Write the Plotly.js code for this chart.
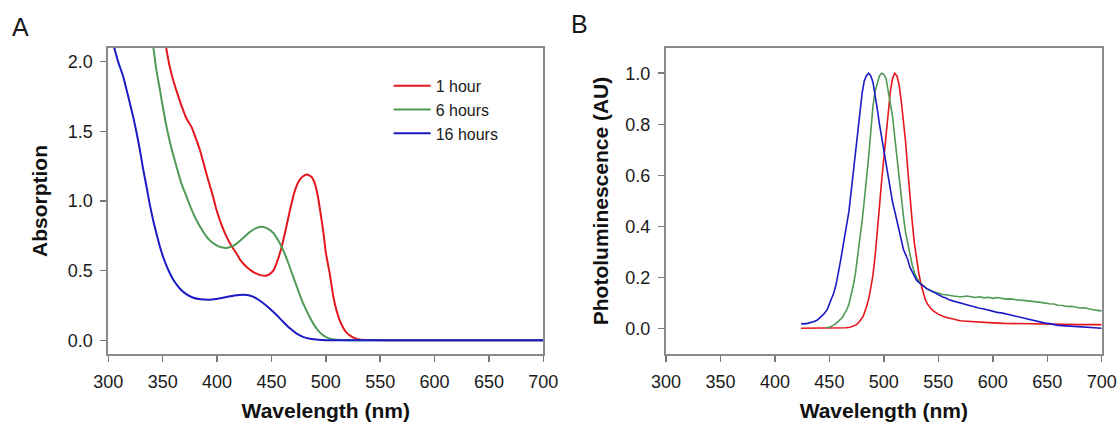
<!DOCTYPE html>
<html>
<head>
<meta charset="utf-8">
<script src="https://cdn.plot.ly/plotly-3.0.1.min.js"></script>
<style>
html,body{margin:0;padding:0;background:#fff;}
#chart{width:1120px;height:425px;}
</style>
</head>
<body>
<div id="chart"></div>
<script>
// ---------- Panel A: absorption ----------
const seriesNames = ["1 hour", "6 hours", "16 hours"];
const seriesColors = ["#e5161c", "#4f9a57", "#1b1bc6"];

const absWl1h = [350,353,356,359.7,364,368.9,372,376.6,380,384.3,388,391.9,396,399.6,404,408.8,413,418,422,427.2,432,436.4,440,444.7,448,451.7,455,459.4,463,467,471,475,479,483,487,490,493,496,498,500,503.8,507,510,513,516,519,522,526,531,540,560,600,650,700];
const absVal1h = [2.2,2.106,1.98,1.866,1.76,1.65,1.59,1.53,1.46,1.364,1.26,1.149,1.04,0.933,0.83,0.742,0.68,0.622,0.57,0.526,0.497,0.479,0.468,0.464,0.474,0.50,0.56,0.67,0.79,0.933,1.06,1.14,1.177,1.19,1.172,1.125,1.02,0.87,0.76,0.63,0.47,0.31,0.21,0.14,0.09,0.055,0.036,0.018,0.006,0.002,0.001,0,0,0];

const absWl6h = [338,341.3,344,347.5,350.5,353.6,358,362.8,367,372,376.5,381.2,386,390.4,395,399.6,404,408.8,413,418,424,430.3,436,442.5,447,451.7,456,460.9,465.5,470.1,474.7,479.3,484,488.5,493,497.7,503.8,510,520,540,600,700];
const absVal6h = [2.2,2.106,1.95,1.795,1.66,1.53,1.38,1.244,1.13,1.03,0.94,0.86,0.795,0.742,0.705,0.682,0.668,0.663,0.672,0.694,0.735,0.778,0.805,0.814,0.80,0.77,0.72,0.646,0.555,0.455,0.355,0.263,0.185,0.12,0.07,0.036,0.012,0.004,0.001,0,0,0];

const absWl16h = [300,305.2,309,313.8,318,323,326,329.1,332,335.2,338,341.3,344.5,347.5,352,356.7,361,365.9,372,378.2,385,393.5,401,408.8,416,424.1,430,436.4,442,448.6,455,460.9,467,473.2,479,485.4,493,500.8,520,600,700];
const absVal16h = [2.24,2.106,2.0,1.89,1.76,1.60,1.49,1.364,1.23,1.10,0.98,0.86,0.76,0.67,0.565,0.48,0.42,0.37,0.33,0.306,0.295,0.292,0.298,0.311,0.322,0.328,0.322,0.30,0.27,0.227,0.18,0.132,0.086,0.048,0.025,0.012,0.004,0.001,0,0,0];

// ---------- Panel B: photoluminescence ----------
const plWl1h = [424,430,436,442,448,454,460,465,469,472,475,478,481,484,486,488,490,492,494,496,498,500,502,504,506,508,510,512,514,516,518,520,522,524,526,528,530,532,534,536,538,540,543,546,550,555,560,565,570,576,582,590,600,610,620,630,640,650,660,670,680,690,700];
const plVal1h = [0.002,0.003,0.002,0.003,0.003,0.003,0.004,0.004,0.006,0.01,0.016,0.03,0.048,0.085,0.115,0.16,0.21,0.285,0.37,0.48,0.58,0.67,0.77,0.86,0.93,0.98,1.0,0.99,0.955,0.89,0.81,0.73,0.62,0.51,0.42,0.335,0.27,0.22,0.175,0.14,0.115,0.097,0.08,0.068,0.057,0.047,0.041,0.035,0.031,0.029,0.027,0.025,0.023,0.021,0.020,0.019,0.018,0.018,0.017,0.017,0.016,0.016,0.016];

const plWl6h = [447,450,453,456,459,462,464,466,468,470,472,474,476,478,480,482,484,486,488,490,492,494,496,498,500,502,504,506,508,510,512,514,516,518,520,522,524,526,528,530,533,536,539,542,545,548,551,554,557,560,564,568,572,576,580,584,588,592,596,600,604,608,612,616,620,624,628,632,636,640,644,648,652,656,660,664,668,672,676,680,684,688,692,696,700];
const plVal6h = [0.004,0.006,0.012,0.02,0.032,0.045,0.06,0.075,0.097,0.13,0.17,0.22,0.28,0.34,0.42,0.50,0.58,0.67,0.77,0.87,0.93,0.965,0.99,1.0,0.995,0.98,0.935,0.885,0.83,0.75,0.67,0.59,0.505,0.44,0.375,0.33,0.285,0.25,0.22,0.2,0.18,0.168,0.158,0.150,0.146,0.142,0.137,0.134,0.133,0.130,0.128,0.126,0.125,0.128,0.124,0.122,0.125,0.121,0.123,0.119,0.122,0.118,0.116,0.117,0.113,0.112,0.111,0.108,0.108,0.105,0.103,0.100,0.098,0.097,0.092,0.091,0.087,0.088,0.083,0.081,0.082,0.077,0.074,0.072,0.070];

const plWl16h = [424,427,430,433,436,439,442,445,448,450,452,454,456,458,460,462,464,466,468,470,472,474,476,478,480,482,484,486,488,490,492,494,496,498,500,502,504,506,508,510,512,514,516,518,520,522,524,526,528,530,533,536,539,542,545,548,551,554,557,560,564,568,572,576,580,584,588,592,596,600,604,608,612,616,620,624,628,632,636,640,644,648,652,656,660,664,668,672,676,680,684,688,692,696,700];
const plVal16h = [0.020,0.019,0.021,0.024,0.028,0.034,0.045,0.058,0.075,0.095,0.115,0.14,0.17,0.21,0.26,0.31,0.37,0.41,0.46,0.535,0.61,0.69,0.78,0.85,0.92,0.97,0.99,1.0,0.99,0.965,0.92,0.86,0.80,0.75,0.70,0.645,0.59,0.54,0.495,0.46,0.42,0.38,0.345,0.31,0.29,0.27,0.24,0.225,0.21,0.19,0.178,0.168,0.158,0.152,0.145,0.137,0.131,0.124,0.12,0.113,0.108,0.102,0.099,0.094,0.089,0.086,0.080,0.077,0.072,0.069,0.064,0.062,0.058,0.053,0.048,0.045,0.042,0.036,0.032,0.029,0.025,0.022,0.020,0.016,0.013,0.012,0.011,0.009,0.008,0.006,0.007,0.005,0.004,0.005,0.002];

const absX = [absWl1h, absWl6h, absWl16h];
const absY = [absVal1h, absVal6h, absVal16h];
const plX = [plWl1h, plWl6h, plWl16h];
const plY = [plVal1h, plVal6h, plVal16h];

const FONT = "'Liberation Sans', Arial, sans-serif";
const traces = [];
for (let i = 0; i < 3; i++) {
  traces.push({x: absX[i], y: absY[i], type: 'scatter', mode: 'lines', name: seriesNames[i],
    line: {color: seriesColors[i], width: 2, shape: 'spline', smoothing: 0.5}, xaxis: 'x', yaxis: 'y', showlegend: true});
}
for (let i = 0; i < 3; i++) {
  traces.push({x: plX[i], y: plY[i], type: 'scatter', mode: 'lines', name: seriesNames[i],
    line: {color: seriesColors[i], width: 1.6}, xaxis: 'x2', yaxis: 'y2', showlegend: false});
}

const axisCommon = {
  showgrid: false, zeroline: false, showline: true, linecolor: '#8a8a8a', linewidth: 2, mirror: true,
  ticks: 'outside', ticklen: 6, tickwidth: 1.5, tickcolor: '#777',
  tickfont: {family: FONT, size: 18, color: '#1a1a1a'}, automargin: false, ticklabelstandoff: 4
};
const titleFont = {family: FONT, size: 21, color: '#111', weight: 'bold'};

const layout = {
  width: 1120, height: 425,
  margin: {l: 0, r: 0, t: 0, b: 0},
  paper_bgcolor: '#fff', plot_bgcolor: '#fff',
  showlegend: true,
  legend: {x: 0.347, xanchor: 'left', y: 0.838, yanchor: 'top', bgcolor: 'rgba(0,0,0,0)',
    font: {family: FONT, size: 16, color: '#1a1a1a'}, itemwidth: 37, tracegroupgap: 0},
  xaxis: Object.assign({}, axisCommon, {domain: [0.0967, 0.4851], range: [300, 700], dtick: 50, tick0: 300, anchor: 'y',
    title: {text: 'Wavelength (nm)', font: titleFont, standoff: 12}}),
  yaxis: Object.assign({}, axisCommon, {domain: [0.1664, 0.8878], range: [-0.1, 2.1], dtick: 0.5, tick0: 0, tickformat: '.1f', anchor: 'x',
    title: {text: 'Absorption', font: titleFont, standoff: 14}}),
  xaxis2: Object.assign({}, axisCommon, {domain: [0.5946, 0.9837], range: [300, 700], dtick: 50, tick0: 300, anchor: 'y2',
    title: {text: 'Wavelength (nm)', font: titleFont, standoff: 12}}),
  yaxis2: Object.assign({}, axisCommon, {domain: [0.1664, 0.8878], range: [-0.1, 1.1], dtick: 0.2, tick0: 0, tickformat: '.1f', anchor: 'x2',
    title: {text: 'Photoluminescence (AU)', font: titleFont, standoff: 11}}),
  annotations: [
    {text: 'A', xref: 'paper', yref: 'paper', x: 20/1120, y: 1 - 27/425, xanchor: 'center', yanchor: 'middle', showarrow: false,
      font: {family: FONT, size: 25, color: '#1a1a1a'}},
    {text: 'B', xref: 'paper', yref: 'paper', x: 579/1120, y: 1 - 24/425, xanchor: 'center', yanchor: 'middle', showarrow: false,
      font: {family: FONT, size: 25, color: '#1a1a1a'}}
  ]
};

Plotly.newPlot('chart', traces, layout, {staticPlot: true, displayModeBar: false});
</script>
</body>
</html>
